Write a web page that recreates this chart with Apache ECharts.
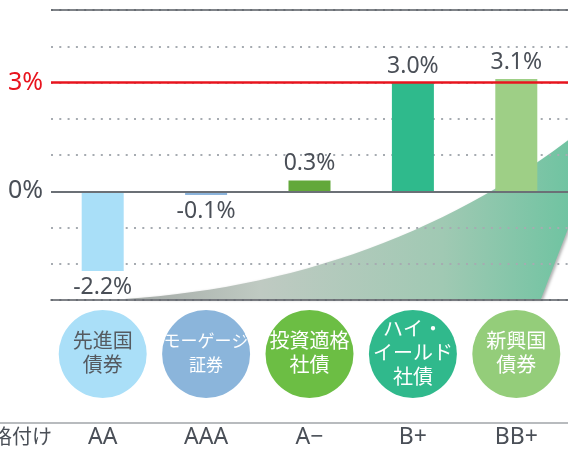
<!DOCTYPE html>
<html>
<head>
<meta charset="utf-8">
<script src="https://cdn.jsdelivr.net/npm/echarts@6/dist/echarts.min.js"></script>
<style>
    html, body { margin: 0; padding: 0; background: #fff; }
    #main { width: 568px; height: 452px; }
</style>
</head>
<body>
<div id="main"></div>
<script>
    // data
    var assetNames = ['先進国\n債券', 'モーゲージ\n証券', '投資適格\n社債', 'ハイ・\nイールド\n社債', '新興国\n債券'];
    var ratings = ['AA', 'AAA', 'A−', 'B+', 'BB+'];
    var returns = [-2.2, -0.1, 0.3, 3.0, 3.1];
    var axisMin = -3, axisMax = 5, axisStep = 1;
    var shownTicks = [0, 3];
    var targetLine = 3;
    var ratingTitle = '格付け';

    // styles
    var FONT = "'Noto Sans', 'Noto Sans CJK JP', sans-serif";
    var TEXT = '#4a4f57';
    var barColors = ['#a9dff8', '#8bb4dc', '#62a83a', '#2fba8c', '#9ecf86'];
    var circleColors = ['#aadff8', '#8bb5db', '#6cbe44', '#30b98c', '#94cd7a'];

    // decorative wedge behind the bars (quadratic curve, pixel space)
    function wedgePoints() {
        var p0 = [124, 299], c = [385, 282], p1 = [579, 132];
        var pts = [];
        for (var k = 0; k <= 30; k++) {
            var t = k / 30, u = 1 - t;
            pts.push([u * u * p0[0] + 2 * u * t * c[0] + t * t * p1[0],
                      u * u * p0[1] + 2 * u * t * c[1] + t * t * p1[1]]);
        }
        pts.push([579, 200], [541, 299]);
        return pts;
    }

    var myChart = echarts.init(document.getElementById('main'));

    var options = {
        animation: false,
        textStyle: {fontFamily: FONT},
        grid: [
            {left: 51, right: -2, top: 10, height: 290},
            {left: 51, right: -2, top: 310, height: 88}
        ],
        xAxis: [
            {
                gridIndex: 0, type: 'category', data: ratings, z: 2,
                axisLine: {show: true, onZero: false, lineStyle: {color: '#555a60', width: 1.5}},
                axisTick: {show: false},
                axisLabel: {show: false}
            },
            {
                gridIndex: 1, type: 'category', data: ratings,
                axisLine: {show: false},
                axisTick: {show: false},
                axisLabel: {margin: 28, fontSize: 23, color: TEXT, fontFamily: FONT}
            }
        ],
        yAxis: [
            {
                gridIndex: 0, type: 'value', z: 2,
                min: axisMin, max: axisMax, interval: axisStep,
                axisLine: {show: false},
                axisTick: {show: false},
                splitLine: {lineStyle: {type: [2, 6.3], width: 2, color: '#a6abb1'}},
                axisLabel: {
                    margin: 8, fontSize: 25, color: TEXT, fontFamily: FONT,
                    formatter: function (v) {
                        if (shownTicks.indexOf(v) < 0) return '';
                        return v === targetLine ? '{r|' + v + '%}' : v + '%';
                    },
                    rich: {r: {color: '#e8141e', fontSize: 25, fontFamily: FONT}}
                }
            },
            {gridIndex: 1, type: 'value', min: 0, max: 1, show: false}
        ],
        series: [
            {
                type: 'custom', xAxisIndex: 0, yAxisIndex: 0, z: 1, silent: true,
                data: [0],
                renderItem: function () {
                    return {
                        type: 'polygon',
                        shape: {points: wedgePoints()},
                        style: {
                            fill: {
                                type: 'linear', x: 0, y: 0, x2: 1, y2: 0,
                                colorStops: [
                                    {offset: 0, color: '#a3a8a5'},
                                    {offset: 0.3, color: '#bfcac2'},
                                    {offset: 0.7, color: '#a0c9b3'},
                                    {offset: 1, color: '#6cc3a0'}
                                ]
                            },
                            shadowBlur: 3, shadowColor: 'rgba(0,0,0,0.3)', shadowOffsetX: 2, shadowOffsetY: 1
                        }
                    };
                }
            },
            {
                type: 'bar', xAxisIndex: 0, yAxisIndex: 0,
                barWidth: 42,
                z: 3,
                data: returns.map(function (v, i) {
                    return {value: v, itemStyle: {color: barColors[i]}, label: {position: v < 0 ? 'bottom' : 'top'}};
                }),
                label: {
                    show: true, distance: 5, fontSize: 23, color: TEXT, fontFamily: FONT,
                    formatter: function (p) { return p.value.toFixed(1) + '%'; }
                },
                markLine: {
                    silent: true, symbol: 'none', label: {show: false},
                    data: [
                        {yAxis: axisMax, lineStyle: {color: '#555a60', width: 1.5, type: 'solid'}},
                        {yAxis: targetLine, lineStyle: {color: '#e8141e', width: 2.5, type: 'solid'}},
                        {yAxis: 0, lineStyle: {color: '#6b7076', width: 2, type: 'solid'}}
                    ]
                }
            },
            {
                type: 'scatter', xAxisIndex: 1, yAxisIndex: 1,
                symbolSize: 88,
                data: assetNames.map(function (n, i) {
                    return {
                        value: [i, 0.5],
                        itemStyle: {color: circleColors[i], opacity: 1},
                        label: {color: i === 0 ? '#555a60' : '#fff', fontSize: i === 1 ? 17 : 20}
                    };
                }),
                label: {
                    show: true, position: 'inside', lineHeight: 24, fontFamily: FONT,
                    formatter: function (p) { return assetNames[p.dataIndex]; }
                }
            }
        ],
        graphic: [
            {
                type: 'line', silent: true,
                shape: {x1: 0, y1: 423, x2: 568, y2: 423},
                style: {stroke: '#a0a4a9', lineWidth: 1.5}
            },
            {
                type: 'text', silent: true, x: -8, y: 438,
                style: {
                    text: ratingTitle, fill: TEXT, font: '20px ' + FONT,
                    verticalAlign: 'middle', textVerticalAlign: 'middle'
                }
            }
        ]
    };

    myChart.setOption(options);
</script>
</body>
</html>
